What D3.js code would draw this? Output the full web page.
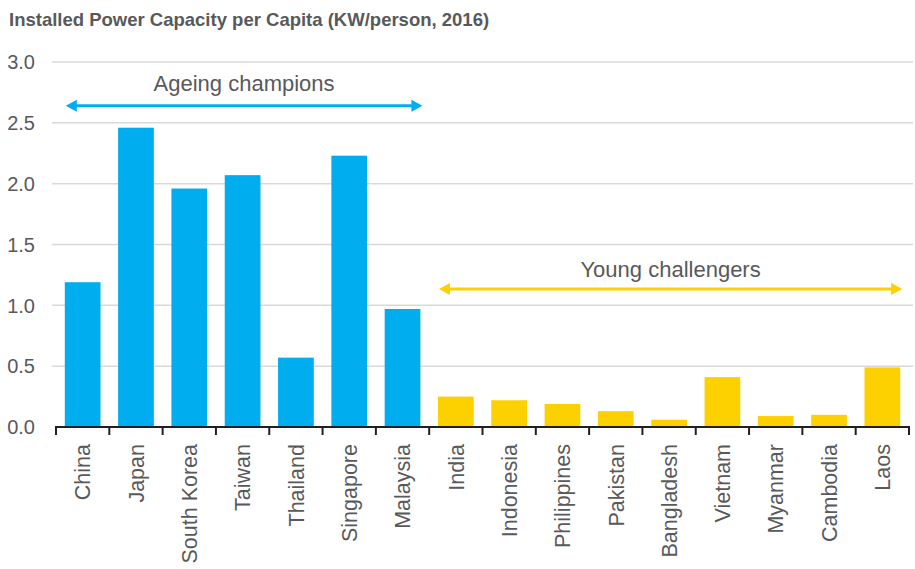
<!DOCTYPE html>
<html>
<head>
<meta charset="utf-8">
<script src="https://cdn.jsdelivr.net/npm/d3@7"></script>
<style>
  body { margin: 0; background: #fff; }
  text { font-family: "Liberation Sans", Arial, sans-serif; fill: #58595b; }
</style>
</head>
<body>
<svg id="chart" width="915" height="569"></svg>
<script>
const countries = ['China', 'Japan', 'South Korea', 'Taiwan', 'Thailand', 'Singapore', 'Malaysia',
  'India', 'Indonesia', 'Philippines', 'Pakistan', 'Bangladesh', 'Vietnam', 'Myanmar', 'Cambodia', 'Laos'];
const capacity = [1.19, 2.46, 1.96, 2.07, 0.57, 2.23, 0.97,
  0.25, 0.22, 0.19, 0.13, 0.06, 0.41, 0.09, 0.10, 0.49];
const groups = ['ageing', 'ageing', 'ageing', 'ageing', 'ageing', 'ageing', 'ageing',
  'young', 'young', 'young', 'young', 'young', 'young', 'young', 'young', 'young'];
const yTicks = [0, 0.5, 1.0, 1.5, 2.0, 2.5, 3.0];
const groupLabels = {ageing: 'Ageing champions', young: 'Young challengers'};
const groupLevels = {ageing: 2.64, young: 1.134};

const colors = {ageing: '#00aeef', young: '#fdd100'};
const labelGap = {ageing: 15, young: 12};

const data = countries.map((c, i) => ({country: c, value: capacity[i], group: groups[i]}));

const svg = d3.select('#chart');

const x = d3.scaleBand()
    .domain(countries)
    .range([56, 909])
    .paddingInner(0.33)
    .paddingOuter(0.165);

const y = d3.scaleLinear()
    .domain([0, 3])
    .range([427, 62]);

// title
svg.append('text')
    .attr('x', 9)
    .attr('y', 26)
    .style('font-family', '"Liberation Sans Narrow", "Liberation Sans", sans-serif')
    .style('font-weight', 'bold')
    .style('font-size', '18.5px')
    .text('Installed Power Capacity per Capita (KW/person, 2016)');

// gridlines + y labels
svg.append('g')
  .selectAll('line')
  .data(yTicks.filter(d => d > 0))
  .join('line')
    .attr('x1', 52)
    .attr('x2', 913)
    .attr('y1', d => y(d))
    .attr('y2', d => y(d))
    .attr('stroke', '#d9d9d9')
    .attr('stroke-width', 1.5);

svg.append('g')
  .selectAll('text')
  .data(yTicks)
  .join('text')
    .attr('x', 35)
    .attr('y', d => y(d))
    .attr('dy', '0.36em')
    .attr('text-anchor', 'end')
    .style('font-size', '20px')
    .text(d => d.toFixed(1));

// bars
svg.append('g')
  .selectAll('rect')
  .data(data)
  .join('rect')
    .attr('x', d => x(d.country))
    .attr('width', x.bandwidth())
    .attr('y', d => y(d.value))
    .attr('height', d => y(0) - y(d.value))
    .attr('fill', d => colors[d.group]);

// x axis
const step = x.step();
const tickXs = d3.range(countries.length + 1).map(i => x.range()[0] + i * step);
const axis = svg.append('g');
axis.append('line')
    .attr('x1', x.range()[0] - 1)
    .attr('x2', x.range()[1] + 1)
    .attr('y1', y(0))
    .attr('y2', y(0))
    .attr('stroke', '#231f20')
    .attr('stroke-width', 2);
axis.selectAll('.tick')
  .data(tickXs)
  .join('line')
    .attr('class', 'tick')
    .attr('x1', d => d)
    .attr('x2', d => d)
    .attr('y1', y(0))
    .attr('y2', y(0) + 8)
    .attr('stroke', '#231f20')
    .attr('stroke-width', 2);

svg.append('g')
  .selectAll('text')
  .data(countries)
  .join('text')
    .attr('transform', d => `translate(${x(d) + x.bandwidth() / 2},444) rotate(-90)`)
    .attr('dy', '0.36em')
    .attr('text-anchor', 'end')
    .style('font-size', '21.5px')
    .text(d => d);

// group annotations
const groupNames = ['ageing', 'young'];
groupNames.forEach(g => {
  const members = data.filter(d => d.group === g);
  const first = members[0].country;
  const last = members[members.length - 1].country;
  const x0 = x(first) + 1;
  const x1 = x(last) + x.bandwidth() + 2;
  const yy = y(groupLevels[g]);
  const col = colors[g];
  const head = 11;

  svg.append('line')
      .attr('x1', x0 + head - 2)
      .attr('x2', x1 - head + 2)
      .attr('y1', yy)
      .attr('y2', yy)
      .attr('stroke', col)
      .attr('stroke-width', 3);
  svg.append('path')
      .attr('d', `M${x0},${yy} L${x0 + head},${yy - 6} L${x0 + head},${yy + 6} Z`)
      .attr('fill', col);
  svg.append('path')
      .attr('d', `M${x1},${yy} L${x1 - head},${yy - 6} L${x1 - head},${yy + 6} Z`)
      .attr('fill', col);
  svg.append('text')
      .attr('x', (x0 + x1) / 2)
      .attr('y', yy - labelGap[g])
      .attr('text-anchor', 'middle')
      .style('font-size', '22px')
      .text(groupLabels[g]);
});
</script>
</body>
</html>
